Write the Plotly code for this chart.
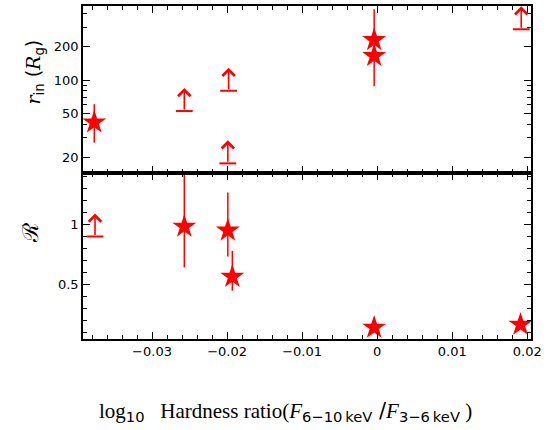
import numpy as np
import plotly.graph_objects as go
from plotly.subplots import make_subplots

RED = "#ff0000"

# ---- top panel: inner radius r_in (R_g) ----
rin_star_x = [-0.0377, -0.0004, -0.0004]
rin_star_y = [41.5, 230, 165]
rin_star_up = [19, 205, 40]
rin_star_dn = [14.3, 40, 77]

rin_lim_x = [-0.0257, -0.0198, -0.0199, 0.0192]
rin_lim_y = [52.5, 80, 17.7, 287]

# ---- bottom panel: reflection fraction R ----
R_star_x = [-0.0257, -0.0199, -0.0193, -0.0004, 0.0191]
R_star_y = [0.98, 0.947, 0.563, 0.14, 0.165]
R_star_up = [0.43, 0.316, 0.215, 0, 0]
R_star_dn = [0.34, 0.217, 0.116, 0, 0]

R_lim_x = [-0.0376]
R_lim_y = [0.897]

x_ticks = [-0.03, -0.02, -0.01, 0, 0.01, 0.02]
x_ticklabels = ["\u22120.03", "\u22120.02", "\u22120.01", "0", "0.01", "0.02"]
rin_ticks = [20, 50, 100, 200]
rin_minor = [20, 30, 40, 50, 60, 70, 80, 90, 200, 300, 400]
R_ticks = [0.5, 1]
R_ticklabels = ["0.5", "1"]

fig = make_subplots(rows=2, cols=1, shared_xaxes=True, vertical_spacing=0,
                    row_heights=[0.5015, 0.4985])

star_kw = dict(mode="markers", marker=dict(symbol="star", size=18, color=RED,
                                           line=dict(width=0)), showlegend=False)

fig.add_trace(go.Scatter(x=rin_star_x, y=rin_star_y,
                         error_y=dict(type="data", array=rin_star_up, arrayminus=rin_star_dn,
                                      color=RED, thickness=1.5, width=0),
                         **star_kw), row=1, col=1)
fig.add_trace(go.Scatter(x=R_star_x, y=R_star_y,
                         error_y=dict(type="data", array=R_star_up, arrayminus=R_star_dn,
                                      color=RED, thickness=1.5, width=0),
                         **star_kw), row=2, col=1)

cap_kw = dict(mode="markers", showlegend=False,
              marker=dict(symbol="line-ew", size=12, color=RED, line=dict(width=2, color=RED)))
fig.add_trace(go.Scatter(x=rin_lim_x, y=rin_lim_y, **cap_kw), row=1, col=1)
fig.add_trace(go.Scatter(x=R_lim_x, y=R_lim_y, **cap_kw), row=2, col=1)

ARROW_PX = 23
annots = []
for xv, yv in zip(rin_lim_x, rin_lim_y):
    annots.append(dict(x=xv, y=np.log10(yv), xref="x", yref="y", text="",
                       showarrow=True, arrowhead=4, arrowsize=1.5, arrowwidth=1.6,
                       arrowcolor=RED, ax=0, ay=ARROW_PX, yshift=ARROW_PX,
                       standoff=0, startstandoff=0))
for xv, yv in zip(R_lim_x, R_lim_y):
    annots.append(dict(x=xv, y=yv, xref="x2", yref="y2", text="",
                       showarrow=True, arrowhead=4, arrowsize=1.5, arrowwidth=1.6,
                       arrowcolor=RED, ax=0, ay=ARROW_PX, yshift=ARROW_PX,
                       standoff=0, startstandoff=0))

serif_i = "font-family:'DejaVu Serif';font-style:italic"
annots.append(dict(xref="paper", yref="paper", x=0, y=0.80, xshift=-48,
                   textangle=-90, showarrow=False, xanchor="center", yanchor="middle",
                   text=f"<span style=\"{serif_i}\">r</span><sub>in</sub> "
                        f"(<span style=\"{serif_i}\">R</span><sub>g</sub>)",
                   font=dict(size=19, color="black", family="DejaVu Sans")))
annots.append(dict(xref="paper", yref="paper", x=0, y=0.318, xshift=-53,
                   textangle=-90, showarrow=False, xanchor="center", yanchor="middle",
                   text="\u211b", font=dict(size=22, color="black", family="DejaVu Serif")))
annots.append(dict(xref="paper", yref="paper", x=0.453, y=-0.219,
                   showarrow=False, xanchor="center", yanchor="middle",
                   text="log<sub><span style=\"font-family:'DejaVu Sans'\">10</span></sub>   "
                        "Hardness ratio(<i>F</i><sub><span style=\"font-family:'DejaVu Sans'\">6\u221210\u2009keV</span></sub>"
                        "<span style=\"font-family:'DejaVu Sans'\"> /</span>"
                        "<i>F</i><sub><span style=\"font-family:'DejaVu Sans'\">3\u22126\u2009keV</span></sub> )",
                   font=dict(size=21, color="black", family="Liberation Serif")))

axis_common = dict(showline=True, linecolor="black", linewidth=1.5, mirror="allticks",
                   ticks="inside", ticklen=7, tickwidth=1.2, tickcolor="black",
                   showgrid=False, zeroline=False,
                   tickfont=dict(size=13, color="black", family="DejaVu Sans"))

fig.update_xaxes(**axis_common, range=[-0.0392, 0.0205], tickvals=x_ticks,
                 ticktext=x_ticklabels,
                 minor=dict(dtick=0.002, tick0=0, ticks="inside", ticklen=4,
                            tickcolor="black", tickwidth=1.2, showgrid=False))
fig.update_xaxes(showticklabels=False, row=1, col=1)
fig.update_yaxes(**axis_common, row=1, col=1, type="log", range=[1.161, 2.668],
                 tickvals=rin_ticks, ticktext=[str(v) for v in rin_ticks],
                 minor=dict(tickvals=rin_minor, ticks="inside", ticklen=4,
                            tickcolor="black", tickwidth=1.2, showgrid=False))
fig.update_yaxes(**axis_common, row=2, col=1, range=[0.045, 1.425],
                 tickvals=R_ticks, ticktext=R_ticklabels,
                 minor=dict(dtick=0.1, tick0=0, ticks="inside", ticklen=4,
                            tickcolor="black", tickwidth=1.2, showgrid=False))

fig.update_layout(width=552, height=430,
                  margin=dict(l=83, r=21, t=6, b=91, autoexpand=False),
                  paper_bgcolor="white", plot_bgcolor="white",
                  annotations=annots, showlegend=False,
                  font=dict(family="DejaVu Sans", color="black"))

fig.write_html("out.html", config={"displayModeBar": False},
               post_script="document.body.style.margin='0';document.body.style.padding='0';")
